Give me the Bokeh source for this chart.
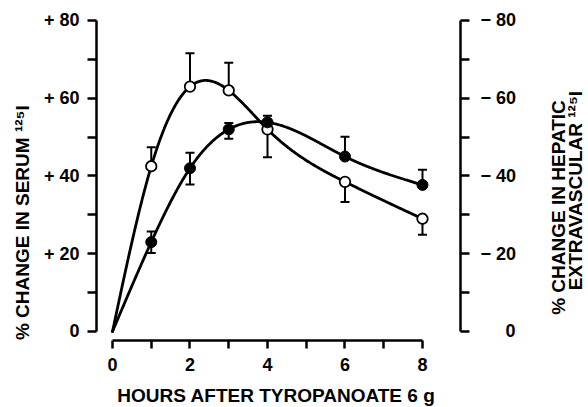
import numpy as np
from bokeh.plotting import figure
from bokeh.models import (Range1d, LinearAxis, FixedTicker, Whisker, TeeHead,
                          ColumnDataSource, Label)
from bokeh.embed import file_html
from bokeh.resources import INLINE

# ---------------- data ----------------
hours = [0, 1, 2, 3, 4, 6, 8]

# open circles: % change in serum 125I (left axis)
serum_pct = [0, 42.5, 63.0, 62.0, 52.0, 38.5, 29.0]
serum_sem_up = [0, 4.9, 8.6, 7.1, 0, 0, 0]
serum_sem_down = [0, 0, 0, 0, 7.2, 5.2, 4.1]

# filled circles: % change in hepatic extravascular 125I (right axis, negative)
hepatic_pct = [0, -23.0, -42.0, -52.0, -53.8, -45.0, -37.7]
hepatic_sem_out = [0, 2.7, 4.0, 1.6, 1.7, 5.1, 3.9]   # away from zero
hepatic_sem_in = [0, 2.8, 4.2, 2.4, 0, 0, 0]          # toward zero

x_ticks = [0, 2, 4, 6, 8]
x_minor_ticks = [1, 3, 5, 7]
left_ticks = [0, 20, 40, 60, 80]
left_tick_labels = ["0", "+ 20", "+ 40", "+ 60", "+ 80"]
left_minor_ticks = [10, 30, 50, 70]
right_ticks = [0, -20, -40, -60, -80]
right_tick_labels = ["\u2007\u2007\u20080", "\u2212 20", "\u2212 40", "\u2212 60", "\u2212 80"]
right_minor_ticks = [-10, -30, -50, -70]

x_title = "HOURS AFTER TYROPANOATE 6 g"
left_title = "% CHANGE IN SERUM \u00b9\u00b2\u2075I"
right_title_1 = "% CHANGE IN HEPATIC"
right_title_2 = "EXTRAVASCULAR \u00b9\u00b2\u2075I"

FONT = "Liberation Sans"


def smooth(xs, ys, n=400):
    """Natural cubic spline through the data points."""
    xs = np.asarray(xs, float)
    ys = np.asarray(ys, float)
    k = len(xs)
    h = np.diff(xs)
    A = np.zeros((k, k))
    b = np.zeros(k)
    A[0, 0] = 1.0
    A[-1, -1] = 1.0
    for i in range(1, k - 1):
        A[i, i - 1] = h[i - 1]
        A[i, i] = 2 * (h[i - 1] + h[i])
        A[i, i + 1] = h[i]
        b[i] = 6 * ((ys[i + 1] - ys[i]) / h[i] - (ys[i] - ys[i - 1]) / h[i - 1])
    M = np.linalg.solve(A, b)
    xx = np.linspace(xs[0], xs[-1], n)
    yy = np.empty_like(xx)
    for j, x in enumerate(xx):
        i = min(np.searchsorted(xs, x, side="right") - 1, k - 2)
        t0 = xs[i + 1] - x
        t1 = x - xs[i]
        yy[j] = (M[i] * t0 ** 3 + M[i + 1] * t1 ** 3) / (6 * h[i]) \
            + (ys[i] / h[i] - M[i] * h[i] / 6) * t0 \
            + (ys[i + 1] / h[i] - M[i + 1] * h[i] / 6) * t1
    return xx, yy


p = figure(width=588, height=407, output_backend="svg", toolbar_location=None,
           x_range=Range1d(-0.413, 8.981), y_range=Range1d(-2.315, 80.51),
           min_border_left=96, min_border_right=128, min_border_top=18,
           min_border_bottom=67)
p.extra_y_ranges = {"right": Range1d(2.315, -80.51)}
p.grid.visible = False
p.outline_line_color = None
p.background_fill_color = "white"
p.border_fill_color = "white"


def style(ax, tick_out=9, standoff=8):
    ax.axis_line_width = 2.5
    ax.axis_line_color = "black"
    ax.major_tick_line_width = 2.5
    ax.minor_tick_line_width = 2.5
    ax.major_tick_line_color = "black"
    ax.minor_tick_line_color = "black"
    ax.major_tick_out = tick_out
    ax.major_tick_in = 0
    ax.minor_tick_out = tick_out
    ax.minor_tick_in = 0
    ax.major_label_text_font = FONT
    ax.major_label_text_font_style = "bold"
    ax.major_label_text_font_size = "18px"
    ax.major_label_text_color = "black"
    ax.major_label_standoff = standoff


xa = p.xaxis[0]
xa.ticker = FixedTicker(ticks=x_ticks, minor_ticks=x_minor_ticks)
xa.bounds = (0, 8)
style(xa, tick_out=8, standoff=9)

ya = p.yaxis[0]
ya.ticker = FixedTicker(ticks=left_ticks, minor_ticks=left_minor_ticks)
ya.bounds = (0, 80)
ya.major_label_overrides = {t: s for t, s in zip(left_ticks, left_tick_labels)}
style(ya, tick_out=9, standoff=8)

ra = LinearAxis(y_range_name="right")
ra.ticker = FixedTicker(ticks=right_ticks, minor_ticks=right_minor_ticks)
ra.bounds = (-80, 0)
ra.major_label_overrides = {t: s for t, s in zip(right_ticks, right_tick_labels)}
style(ra, tick_out=9, standoff=11)
p.add_layout(ra, "right")

# ---------------- curves ----------------
sx, sy = smooth(hours, serum_pct)
p.line(sx, sy, line_width=2.8, line_color="black", line_cap="round", line_join="round")
hx, hy = smooth(hours, hepatic_pct)
p.line(hx, hy, line_width=2.8, line_color="black", line_cap="round", line_join="round",
       y_range_name="right")

# ---------------- error bars ----------------
hrs = np.array(hours, float)
s = np.array(serum_pct, float)
su = np.array(serum_sem_up, float)
sd = np.array(serum_sem_down, float)
hp = np.array(hepatic_pct, float)
ho = np.array(hepatic_sem_out, float)
hi = np.array(hepatic_sem_in, float)


def whisk(x, lo, up, range_name, head_up, head_lo):
    src = ColumnDataSource(dict(base=list(x), lower=list(lo), upper=list(up)))
    w = Whisker(base="base", lower="lower", upper="upper", source=src,
                dimension="height", line_width=2, line_color="black",
                upper_head=TeeHead(size=9, line_width=2, line_color="black") if head_up else None,
                lower_head=TeeHead(size=9, line_width=2, line_color="black") if head_lo else None)
    if range_name:
        w.y_range_name = range_name
    p.add_layout(w)


m = su > 0
whisk(hrs[m], s[m], s[m] + su[m], None, True, False)
m = sd > 0
whisk(hrs[m], s[m] - sd[m], s[m], None, False, True)
m = ho > 0
whisk(hrs[m], hp[m] - ho[m], hp[m], "right", False, True)
m = hi > 0
whisk(hrs[m], hp[m], hp[m] + hi[m], "right", True, False)

# ---------------- markers ----------------
mk = hrs > 0
p.scatter(hrs[mk], s[mk], size=10.5, marker="circle", fill_color="white",
          line_color="black", line_width=1.8)
p.scatter(hrs[mk], hp[mk], size=11, marker="circle", fill_color="black",
          line_color="black", line_width=1, y_range_name="right")

# ---------------- titles (in side panels so they are not clipped) ----------------
def title(x, y, text, angle, side):
    p.add_layout(Label(x=x, y=y, text=text, angle=angle, text_align="center",
                       text_baseline="middle", text_font=FONT, text_font_style="bold",
                       text_font_size="19px", text_color="black"), side)


title(4.23, -16.5, x_title, 0, "below")
title(-2.32, 28.0, left_title, np.pi / 2, "left")
title(11.52, 31.9, right_title_1, np.pi / 2, "right")
title(11.96, 36.27, right_title_2, np.pi / 2, "right")

open("out.html", "w").write(file_html(p, INLINE))
